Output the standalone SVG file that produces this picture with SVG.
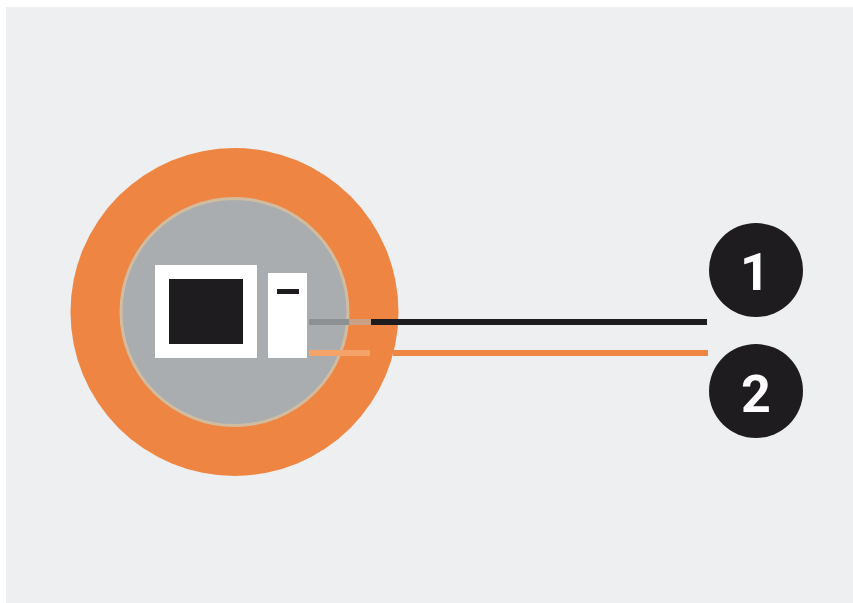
<svg xmlns="http://www.w3.org/2000/svg" width="853" height="603" viewBox="0 0 853 603">
<style>
.badge{fill:#1f1c20}
.num{fill:#fff;font-family:Roboto,"Liberation Sans",Arial,sans-serif;font-weight:700;font-size:52px;text-anchor:middle}
.unit{fill:#fff}
.dark{fill:#1f1c20}
</style>
<rect width="853" height="603" fill="#fff"/>
<rect x="6" y="7" width="847" height="596" fill="#edeff0"/>
<g id="globe">
<circle cx="234.500" cy="312" r="164" fill="#ee8542"/>
<circle cx="234.500" cy="312" r="113.500" fill="#a9adaf" stroke="#d2bc9f" stroke-width="3"/>
</g>
<g id="monitor">
<rect class="unit" x="155" y="265" width="102" height="93"/>
<rect class="dark" x="169" y="279" width="74" height="65"/>
</g>
<g id="tower">
<rect class="unit" x="268" y="273" width="39" height="85"/>
<rect class="dark" x="277" y="289" width="22" height="5"/>
</g>
<g id="connectors" fill="none" stroke-width="6">
<path d="M309 322H349" stroke="#8d9092"/>
<path d="M349 322H371" stroke="#c9a083"/>
<path d="M371 322H707" stroke="#1f1c20"/>
<path d="M309 353H370" stroke="#f4a468"/>
<path d="M393 353H708" stroke="#ee8542"/>
</g>
<g id="badge-1">
<circle class="badge" cx="756" cy="270" r="47"/>
<text class="num" x="755" y="290">1</text>
</g>
<g id="badge-2">
<circle class="badge" cx="756" cy="391" r="47"/>
<text class="num" x="756" y="412">2</text>
</g>
</svg>
